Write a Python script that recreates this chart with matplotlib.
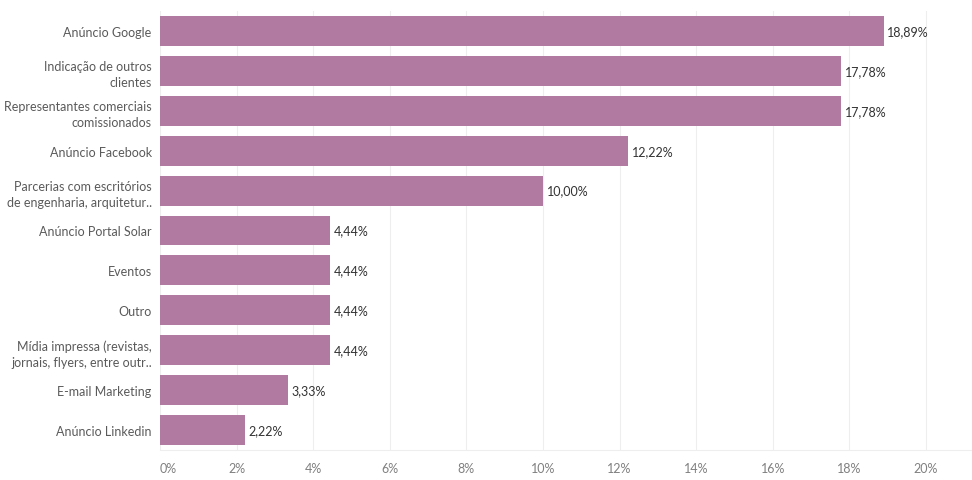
import matplotlib
matplotlib.use("Agg")
import matplotlib.pyplot as plt

plt.rcParams['font.family'] = ['Lato', 'DejaVu Sans']

categories = [
    "Anúncio Google",
    "Indicação de outros\nclientes",
    "Representantes comerciais\ncomissionados",
    "Anúncio Facebook",
    "Parcerias com escritórios\nde engenharia, arquitetur..",
    "Anúncio Portal Solar",
    "Eventos",
    "Outro",
    "Mídia impressa (revistas,\njornais, flyers, entre outr..",
    "E-mail Marketing",
    "Anúncio Linkedin",
]
values = [18.89, 17.78, 17.78, 12.22, 10.00, 4.44, 4.44, 4.44, 4.44, 3.33, 2.22]
xticks = [0, 2, 4, 6, 8, 10, 12, 14, 16, 18, 20]

fig = plt.figure(figsize=(9.72, 4.81), dpi=100)
ax = fig.add_axes([160/972, 1-451/481, 1-160/972, (451-12)/481])

y = list(range(len(categories)))
ax.barh(y, values, height=0.75, color="#b07aa1", zorder=2)
ax.set_ylim(len(categories)-0.5, -0.5)
ax.set_xlim(0, 21.2)
ax.set_yticks(y)
ax.set_yticklabels(categories, fontsize=9, color="#5a5a5a", linespacing=1.45)
ax.set_xticks(xticks)
ax.set_xticklabels([f"{t}%" for t in xticks], fontsize=9, color="#808080")
ax.tick_params(axis='x', length=0, pad=9)
ax.tick_params(axis='y', length=0, pad=6)
ax.get_xticklabels()[0].set_horizontalalignment('left')
ax.grid(axis='x', color="#eeeeee", linewidth=0.8, zorder=0)
for s in ["top", "right", "left"]:
    ax.spines[s].set_visible(False)
ax.spines["bottom"].set_color("#eeeeee")

for yi, v in zip(y, values):
    ax.text(v + 0.1, yi, f"{v:.2f}%".replace(".", ","), va="center", ha="left",
            fontsize=9, color="#333333")

fig.savefig("out.png", dpi=100)
